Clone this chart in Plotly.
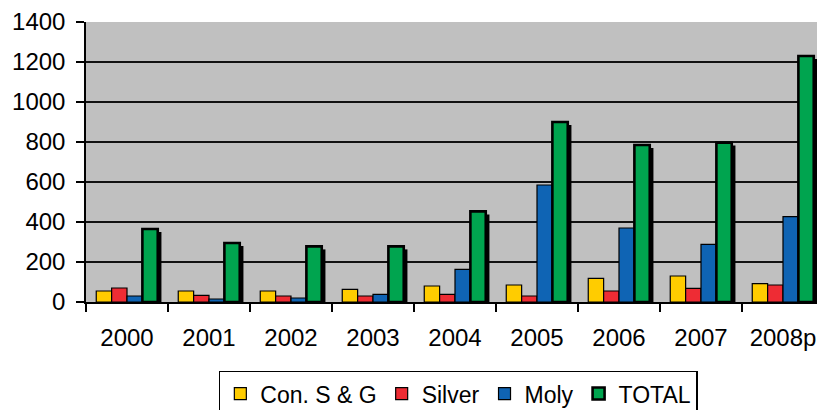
import plotly.graph_objects as go

years = ["2000", "2001", "2002", "2003", "2004", "2005", "2006", "2007", "2008p"]
con_sg = [55, 55, 55, 63, 80, 85, 118, 130, 92]
silver = [70, 33, 30, 30, 38, 30, 55, 68, 85]
moly = [30, 15, 20, 38, 163, 585, 370, 288, 427]
total = [365, 295, 278, 278, 453, 900, 785, 797, 1230]

FONT = "Arial, Liberation Sans, sans-serif"
W = 0.1875
START = -0.375

fig = go.Figure()

# drop shadow behind TOTAL bars (style only)
fig.add_trace(go.Bar(
    x=years, y=total, base=-15, offset=START + 3 * W + 0.045, width=W,
    marker=dict(color="black", line=dict(width=0)),
    showlegend=False, hoverinfo="skip",
))

series = [
    ("Con. S & G", con_sg, "#FFCC00", 1.2),
    ("Silver", silver, "#EE2C34", 1.2),
    ("Moly", moly, "#0F64B4", 1.2),
    ("TOTAL", total, "#00A44F", 2.6),
]
for k, (name, vals, col, lw) in enumerate(series):
    fig.add_trace(go.Bar(
        x=years, y=vals, name=name, offset=START + k * W, width=W,
        marker=dict(color=col, line=dict(color="black", width=lw)),
    ))

# page body has an 8px default margin, so the figure is sized/offset to compensate
fig.update_layout(
    width=817, height=402,
    margin=dict(l=78, r=1, t=14, b=108, autoexpand=False),
    barmode="overlay",
    paper_bgcolor="white",
    plot_bgcolor="#C0C0C0",
    font=dict(family=FONT, size=24, color="black"),
    showlegend=True,
    legend=dict(
        orientation="h", x=0.18, xanchor="left", y=-0.245, yanchor="top",
        bordercolor="black", borderwidth=1.5, bgcolor="white",
        font=dict(family=FONT, size=23, color="black"),
        traceorder="normal", itemwidth=30,
    ),
)
fig.update_xaxes(
    type="category", range=[-0.5, 8.5], automargin=False,
    tickson="boundaries", ticks="outside", ticklen=8,
    tickcolor="black", tickwidth=1.5, showline=True, linecolor="black",
    linewidth=1.5, showgrid=False, ticklabelstandoff=13,
    tickfont=dict(family=FONT, size=24, color="black"),
)
fig.update_yaxes(
    range=[0, 1400], dtick=200, tick0=0, automargin=False,
    ticks="outside", ticklen=8,
    tickcolor="black", tickwidth=1.5, showline=True, linecolor="black",
    linewidth=1.5, showgrid=True, gridcolor="#111111", gridwidth=1.6,
    zeroline=False, ticklabelstandoff=6,
    tickfont=dict(family=FONT, size=24, color="black"),
)

fig.write_html("out.html")
